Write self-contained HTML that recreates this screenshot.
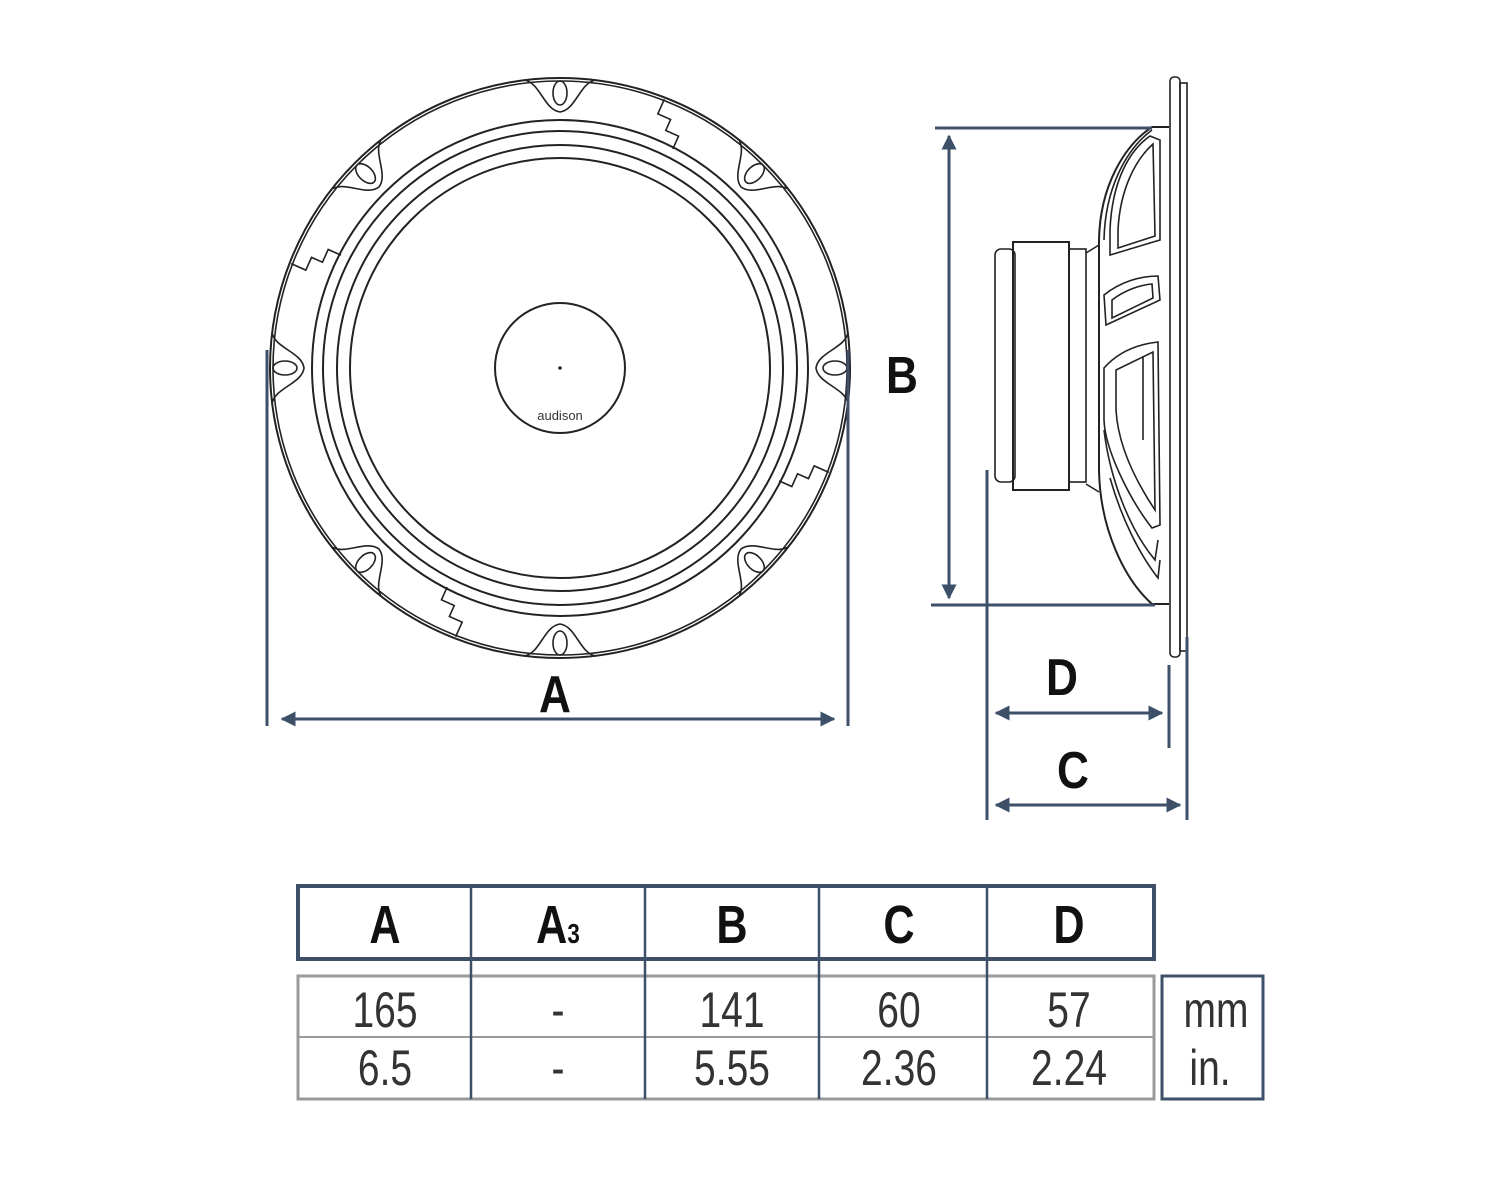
<!DOCTYPE html>
<html><head><meta charset="utf-8"><style>
html,body{margin:0;padding:0;background:#fff;}
svg{display:block;}
.k{fill:none;stroke:#222;stroke-width:2;}
.t{fill:none;stroke:#222;stroke-width:1.6;}
.d{fill:none;stroke:#3d5068;stroke-width:3;}
.lbl{font-family:"Liberation Sans",sans-serif;font-weight:bold;fill:#111;}
.num{font-family:"Liberation Sans",sans-serif;fill:#333;}
</style></head><body>
<svg width="1500" height="1199" viewBox="0 0 1500 1199" xmlns="http://www.w3.org/2000/svg">
<defs>
<g id="tab">
  <path class="t" d="M-36,0 C-20,2 -16,30 0,32 C16,30 20,2 36,0"/>
  <ellipse class="t" cx="0" cy="13" rx="7" ry="12"/>
</g>
<g id="notch">
  <path class="t" d="M-14,0 L-14,16 L0,16 L0,28 L14,28 L14,42"/>
</g>
<marker id="ar" viewBox="0 0 10 10" refX="9" refY="5" markerWidth="5" markerHeight="5" orient="auto-start-reverse"><path d="M0,0 L10,5 L0,10 z" fill="#3d5068"/></marker>
</defs>

<!-- FRONT VIEW -->
<g transform="translate(560,368)">
  <circle class="k" r="290" stroke-width="3"/>
  <circle class="t" r="287"/>
  <circle class="k" r="248"/>
  <circle class="k" r="237"/>
  <circle class="k" r="223"/>
  <circle class="k" r="210"/>
  <circle class="k" r="65"/>
  <circle r="1.8" fill="#222"/>
  <g transform="rotate(0)"><use href="#tab" transform="translate(0,-288)"/></g>
  <g transform="rotate(45)"><use href="#tab" transform="translate(0,-288)"/></g>
  <g transform="rotate(90)"><use href="#tab" transform="translate(0,-288)"/></g>
  <g transform="rotate(135)"><use href="#tab" transform="translate(0,-288)"/></g>
  <g transform="rotate(180)"><use href="#tab" transform="translate(0,-288)"/></g>
  <g transform="rotate(225)"><use href="#tab" transform="translate(0,-288)"/></g>
  <g transform="rotate(270)"><use href="#tab" transform="translate(0,-288)"/></g>
  <g transform="rotate(315)"><use href="#tab" transform="translate(0,-288)"/></g>
  <g transform="rotate(24)"><use href="#notch" transform="translate(0,-288)"/></g>
  <g transform="rotate(114)"><use href="#notch" transform="translate(0,-288)"/></g>
  <g transform="rotate(204)"><use href="#notch" transform="translate(0,-288)"/></g>
  <g transform="rotate(294)"><use href="#notch" transform="translate(0,-288)"/></g>
  <text x="0" y="52" text-anchor="middle" font-family="Liberation Sans,sans-serif" font-size="13" fill="#333">audison</text>
</g>

<!-- A dimension -->
<line class="d" x1="267" y1="350" x2="267" y2="726"/>
<line class="d" x1="848" y1="350" x2="848" y2="726"/>
<line class="d" x1="282" y1="719" x2="834" y2="719" marker-start="url(#ar)" marker-end="url(#ar)"/>
<text class="lbl" font-size="52" text-anchor="middle" transform="translate(555,712) scale(0.85,1)">A</text>

<!-- SIDE VIEW -->
<rect class="t" x="1170" y="77" width="10" height="580" rx="4"/>
<rect class="t" x="1180" y="83" width="7" height="568"/>
<path class="k" d="M1169,127 L1152,127 C1125,145 1100,185 1099,240 L1099,470 C1100,530 1125,580 1152,604 L1169,604"/>
<path class="t" d="M1152,130 C1125,150 1105,190 1104,240"/>
<path class="t" d="M1150,136 C1130,150 1112,180 1110,230 L1110,255 L1160,240 L1160,140 Z"/>
<path class="t" d="M1153,144 C1135,160 1120,190 1118,230 L1118,248 L1155,236 Z"/>
<path class="t" d="M1104,295 C1120,282 1140,276 1158,276 L1160,300 L1106,325 Z"/>
<path class="t" d="M1112,300 C1125,290 1140,285 1152,284 L1153,298 L1112,318 Z"/>
<path class="t" d="M1104,368 C1120,350 1140,344 1158,342 L1160,525 L1152,528 C1130,500 1105,450 1104,420 Z"/>
<path class="t" d="M1116,370 L1153,352 L1155,510 C1135,480 1118,445 1116,410 Z"/>
<line class="t" x1="1143" y1="356" x2="1143" y2="440"/>
<path class="t" d="M1104,430 C1110,480 1130,530 1155,560 L1158,540"/>
<path class="t" d="M1110,478 C1122,520 1140,555 1158,578 L1160,560"/>
<path class="t" d="M1086,253 L1099,245"/>
<path class="t" d="M1086,484 L1099,492"/>
<rect class="t" x="995" y="249" width="20" height="233" rx="6"/>
<rect class="k" x="1013" y="242" width="56" height="248"/>
<rect class="t" x="1069" y="249" width="17" height="233"/>

<!-- B dimension -->
<line class="d" x1="935" y1="128" x2="1152" y2="128"/>
<line class="d" x1="931" y1="605" x2="1155" y2="605"/>
<line class="d" x1="949" y1="136" x2="949" y2="598" marker-start="url(#ar)" marker-end="url(#ar)"/>
<text class="lbl" font-size="52" text-anchor="middle" transform="translate(902,393) scale(0.85,1)">B</text>

<!-- D / C dimensions -->
<line class="d" x1="987" y1="470" x2="987" y2="820"/>
<line class="d" x1="1169" y1="665" x2="1169" y2="748"/>
<line class="d" x1="1187" y1="637" x2="1187" y2="820"/>
<line class="d" x1="996" y1="713" x2="1162" y2="713" marker-start="url(#ar)" marker-end="url(#ar)"/>
<line class="d" x1="996" y1="805" x2="1180" y2="805" marker-start="url(#ar)" marker-end="url(#ar)"/>
<text class="lbl" font-size="52" text-anchor="middle" transform="translate(1062,695) scale(0.85,1)">D</text>
<text class="lbl" font-size="52" text-anchor="middle" transform="translate(1073,788) scale(0.85,1)">C</text>

<!-- TABLE -->
<rect x="298" y="886" width="856" height="73" fill="none" stroke="#3d5068" stroke-width="4"/>
<rect x="298" y="976" width="856" height="123" fill="none" stroke="#9a9a9a" stroke-width="3"/>
<line x1="298" y1="1037" x2="1154" y2="1037" stroke="#9a9a9a" stroke-width="2"/>
<g stroke="#3d5068" stroke-width="2.5">
  <line x1="471" y1="886" x2="471" y2="1099"/>
  <line x1="645" y1="886" x2="645" y2="1099"/>
  <line x1="819" y1="886" x2="819" y2="1099"/>
  <line x1="987" y1="886" x2="987" y2="1099"/>
</g>
<rect x="1162" y="976" width="101" height="123" fill="none" stroke="#3d5068" stroke-width="3"/>

<g class="lbl" font-size="54" text-anchor="middle">
  <text transform="translate(385,943) scale(0.8,1)">A</text>
  <text transform="translate(558,943) scale(0.8,1)">A<tspan font-size="28">3</tspan></text>
  <text transform="translate(732,943) scale(0.8,1)">B</text>
  <text transform="translate(899,943) scale(0.8,1)">C</text>
  <text transform="translate(1069,943) scale(0.8,1)">D</text>
</g>
<g class="num" font-size="50" text-anchor="middle">
  <text transform="translate(385,1027) scale(0.78,1)">165</text>
  <text transform="translate(558,1027) scale(0.78,1)">-</text>
  <text transform="translate(732,1027) scale(0.78,1)">141</text>
  <text transform="translate(899,1027) scale(0.78,1)">60</text>
  <text transform="translate(1069,1027) scale(0.78,1)">57</text>
  <text transform="translate(1216,1027) scale(0.78,1)">mm</text>
  <text transform="translate(385,1085) scale(0.78,1)">6.5</text>
  <text transform="translate(558,1085) scale(0.78,1)">-</text>
  <text transform="translate(732,1085) scale(0.78,1)">5.55</text>
  <text transform="translate(899,1085) scale(0.78,1)">2.36</text>
  <text transform="translate(1069,1085) scale(0.78,1)">2.24</text>
  <text transform="translate(1210,1085) scale(0.78,1)">in.</text>
</g>
</svg>
</body></html>
